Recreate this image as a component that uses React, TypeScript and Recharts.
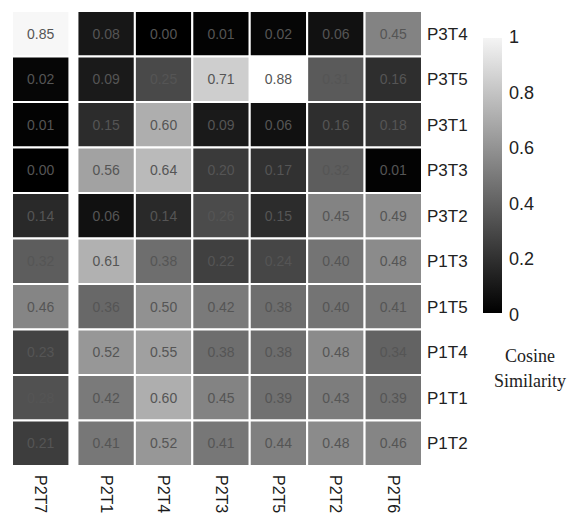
import React from 'react';
import { ScatterChart, Scatter, XAxis, YAxis } from 'recharts';

// categories
const rowLabels = ['P3T4', 'P3T5', 'P3T1', 'P3T3', 'P3T2', 'P1T3', 'P1T5', 'P1T4', 'P1T1', 'P1T2'];
const colLabels = ['P2T7', 'P2T1', 'P2T4', 'P2T3', 'P2T5', 'P2T2', 'P2T6'];

// one array per row, in column order
const p3t4 = [0.85, 0.08, 0.00, 0.01, 0.02, 0.06, 0.45];
const p3t5 = [0.02, 0.09, 0.25, 0.71, 0.88, 0.31, 0.16];
const p3t1 = [0.01, 0.15, 0.60, 0.09, 0.06, 0.16, 0.18];
const p3t3 = [0.00, 0.56, 0.64, 0.20, 0.17, 0.32, 0.01];
const p3t2 = [0.14, 0.06, 0.14, 0.26, 0.15, 0.45, 0.49];
const p1t3 = [0.32, 0.61, 0.38, 0.22, 0.24, 0.40, 0.48];
const p1t5 = [0.46, 0.36, 0.50, 0.42, 0.38, 0.40, 0.41];
const p1t4 = [0.23, 0.52, 0.55, 0.38, 0.38, 0.48, 0.34];
const p1t1 = [0.28, 0.42, 0.60, 0.45, 0.39, 0.43, 0.39];
const p1t2 = [0.21, 0.41, 0.52, 0.41, 0.44, 0.48, 0.46];

const rowValues = [p3t4, p3t5, p3t1, p3t3, p3t2, p1t3, p1t5, p1t4, p1t1, p1t2];

// colour bar ticks
const scaleTicks = [0, 0.2, 0.4, 0.6, 0.8, 1];

const cells = rowValues.flatMap((vals, r) => vals.map((v, c) => ({ x: c, y: r, v })));

const CW = 57.4;
const CH = 45.5;

const gray = (v: number) => {
    const g = Math.min(255, Math.round(v * 290));
    return `rgb(${g},${g},${g})`;
};

const HeatCell = (props: any) => {
    const { cx, cy, payload } = props;
    if (cx == null || cy == null) return null;
    const dx = payload.x === 0 ? -8 : 0;
    return (
        <g>
            <rect
                x={cx - CW / 2 + dx}
                y={cy - CH / 2}
                width={CW}
                height={CH}
                fill={gray(payload.v)}
                stroke="#fff"
                strokeWidth={2}
            />
            <text
                x={cx + dx}
                y={cy}
                textAnchor="middle"
                dominantBaseline="central"
                fontFamily="Arial, 'Liberation Sans', sans-serif"
                fontSize={14}
                fill="#555"
            >
                {payload.v.toFixed(2)}
            </text>
        </g>
    );
};

const ColTick = (props: any) => {
    const { x, y, payload } = props;
    const dx = payload.value === 0 ? -8 : 0;
    const ty = y + 1;
    return (
        <text
            x={x + dx}
            y={ty}
            transform={`rotate(90, ${x + dx}, ${ty})`}
            textAnchor="start"
            dominantBaseline="central"
            fontFamily="Arial, 'Liberation Sans', sans-serif"
            fontSize={16}
            fill="#1a1a1a"
        >
            {colLabels[payload.value]}
        </text>
    );
};

const ColorBar = () => {
    const top = 38;
    const bottom = 313;
    const pos = (t: number) => 315 - t * 278;
    return (
        <svg width={571} height={516} style={{ position: 'absolute', left: 0, top: 0, pointerEvents: 'none' }}>
            <defs>
                <linearGradient id="cbar" x1="0" y1="1" x2="0" y2="0">
                    <stop offset="0%" stopColor="#000" />
                    <stop offset="100%" stopColor="#f4f4f4" />
                </linearGradient>
            </defs>
            <rect x={483} y={top} width={19} height={bottom - top} fill="url(#cbar)" />
            {scaleTicks.map((t) => (
                <text
                    key={t}
                    x={509}
                    y={pos(t)}
                    dominantBaseline="central"
                    fontFamily="Arial, 'Liberation Sans', sans-serif"
                    fontSize={18}
                    fill="#222"
                >
                    {String(t)}
                </text>
            ))}
            <text x={530} y={362} textAnchor="middle" fontFamily="'Liberation Serif', 'Times New Roman', serif" fontSize={18} fill="#222">
                Cosine
            </text>
            <text x={530} y={387} textAnchor="middle" fontFamily="'Liberation Serif', 'Times New Roman', serif" fontSize={18} fill="#222">
                Similarity
            </text>
        </svg>
    );
};

export default function App() {
    return (
        <div style={{ position: 'absolute', left: 0, top: 0, width: 571, height: 516, background: '#fff' }}>
            <ScatterChart width={571} height={516} margin={{ top: 11, right: 89, bottom: 0, left: 20 }}>
                <XAxis
                    type="number"
                    dataKey="x"
                    domain={[-0.5, 6.5]}
                    ticks={[0, 1, 2, 3, 4, 5, 6]}
                    tick={<ColTick />}
                    tickLine={false}
                    axisLine={false}
                    height={50}
                    interval={0}
                />
                <YAxis
                    type="number"
                    dataKey="y"
                    orientation="right"
                    reversed
                    domain={[-0.5, 9.5]}
                    ticks={[0, 1, 2, 3, 4, 5, 6, 7, 8, 9]}
                    tickFormatter={(i: number) => rowLabels[i]}
                    tick={{ fontFamily: "Arial, 'Liberation Sans', sans-serif", fontSize: 17, fill: '#222' }}
                    tickLine={false}
                    axisLine={false}
                    tickSize={0}
                    tickMargin={5}
                    width={60}
                    interval={0}
                />
                <Scatter data={cells} shape={<HeatCell />} isAnimationActive={false} />
            </ScatterChart>
            <ColorBar />
        </div>
    );
}
